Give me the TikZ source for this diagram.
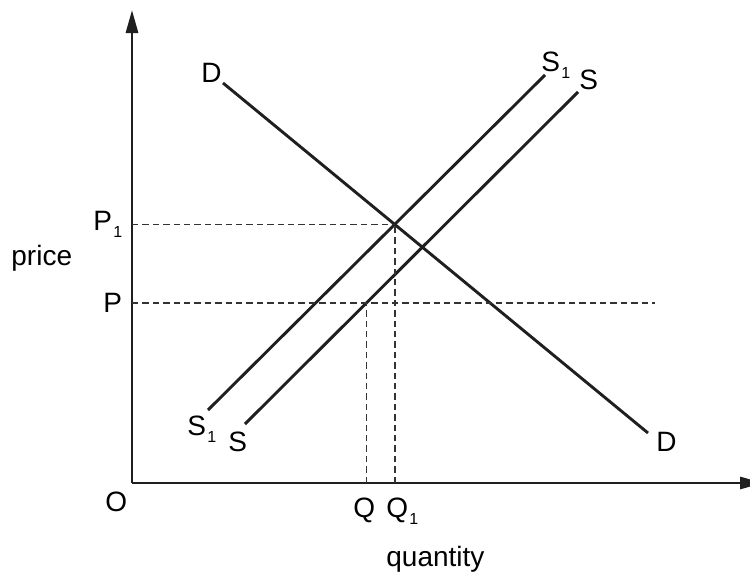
\documentclass[tikz,border=0pt]{standalone}
\usepackage{fontspec}
\setmainfont{Liberation Sans}
\usetikzlibrary{arrows.meta}
\newcommand{\lowsub}[1]{\kern0.6pt\raisebox{-3.5pt}{\fontsize{8}{8}\selectfont #1}}

\begin{document}
\begin{tikzpicture}[x=0.5pt, y=-0.5pt,
        curve/.style={line width=1.45pt, color=black!88},
        guide/.style={line width=0.9pt, color=black!80, dash pattern=on 3.2pt off 2pt},
        lbl/.style={inner sep=0pt, anchor=base west, font=\fontsize{14}{16}\selectfont}]
        \clip (0,0) rectangle (750,573);
        % axes
        \coordinate (O) at (132,483);
        \draw[curve, -{Triangle[length=11.5pt, width=6pt]}] (O) -- (132,10);
        \draw[curve, -{Triangle[length=11.5pt, width=6pt]}] (O) -- (763,483);
        % demand and supply
        \coordinate (Dtop) at (223,83);
        \coordinate (Dbot) at (648,433);
        \coordinate (S1bot) at (208,410);
        \coordinate (S1top) at (545,75);
        \coordinate (Sbot) at (245,424);
        \coordinate (Stop) at (578,92);
        \draw[curve] (Dtop) -- (Dbot);
        \draw[curve] (S1bot) -- (S1top);
        \draw[curve] (Sbot) -- (Stop);
        % guide lines
        \coordinate (Pl) at (132,303);
        \coordinate (Pr) at (655,303);
        \coordinate (E1) at (intersection of Dtop--Dbot and S1bot--S1top);
        \coordinate (E0) at (intersection of Sbot--Stop and Pl--Pr);
        \draw[guide] (Pl) -- (Pr);
        \draw[guide] (O |- E1) -- (E1);
        \draw[guide] (E0 |- O) -- (E0);
        \draw[guide] (E1 |- O) -- (E1);
        % labels
        \node[lbl] (lDtop) at (201,83) {D};
        \node[lbl] (lDbot) at (656,451) {D};
        \node[lbl] (lS1top) at (541,71) {S\lowsub{1}};
        \node[lbl] (lStop) at (579,90) {S};
        \node[lbl] (lS1bot) at (187,435) {S\lowsub{1}};
        \node[lbl] (lSbot) at (228,451) {S};
        \node[lbl] (lP1) at (93,230) {P\lowsub{1}};
        \node[lbl] (lP) at (103,312) {P};
        \node[lbl] (lprice) at (11,265) {price};
        \node[lbl] (lO) at (105,511) {O};
        \node[lbl] (lQ) at (353,517) {Q};
        \node[lbl] (lQ1) at (386,517) {Q\lowsub{1}};
        \node[lbl] (lqty) at (386,566) {quantity};
\end{tikzpicture}
\end{document}
